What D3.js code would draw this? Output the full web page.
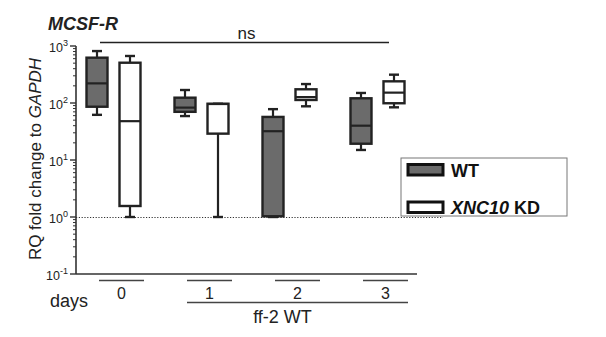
<!DOCTYPE html>
<html><head><meta charset="utf-8">
<script src="https://cdn.jsdelivr.net/npm/d3@7/dist/d3.min.js"></script>
<style>body{margin:0;background:#fff}svg{display:block;font-family:"Liberation Sans",Arial,sans-serif}</style>
</head><body><svg id="c" width="606" height="337"></svg>
<script>
const days = ["0","1","2","3"];
const groups = ["WT","XNC10 KD"];
// [whiskerLow, q1, median, q3, whiskerHigh]
const wtStats = [[62,86,221,624,815],[59,70,83,124,169],[1.0,1.03,32,57,78],[15,19.3,40,121,150]];
const kdStats = [[1.0,1.56,48,509,668],[1.0,29,96,97,97],[87.5,113,127,174,215],[84,99,152,240,314]];
const yTicks = [0.1,1,10,100,1000];
const yExps = ["-1","0","1","2","3"];

const svg = d3.select("#c");
const y = d3.scaleLog().domain([0.1,1000]).range([274,46]);
const x = d3.scalePoint().domain(days).range([113.5,377.5]);
const sub = d3.scaleBand().domain(groups).range([-33,33]).paddingInner(0);
const fills = {"WT":"#6b6b6b","XNC10 KD":"#ffffff"};

// y axis
const minor = [];
for (let e=-1;e<3;e++) for (let k=2;k<=9;k++) minor.push(k*Math.pow(10,e));
const gy = svg.append("g").attr("transform","translate(76,0)");
gy.append("line").attr("x1",0).attr("x2",0).attr("y1",y(1000)).attr("y2",y(0.1)).attr("stroke","#333").attr("stroke-width",1.6);
gy.selectAll(".mn").data(minor).join("line").attr("x1",-3).attr("x2",0).attr("y1",d=>y(d)).attr("y2",d=>y(d)).attr("stroke","#333").attr("stroke-width",1);
gy.selectAll(".mj").data(yTicks).join("line").attr("x1",-6).attr("x2",0).attr("y1",d=>y(d)).attr("y2",d=>y(d)).attr("stroke","#333").attr("stroke-width",1.4);
const tl = gy.selectAll(".tl").data(yTicks).join("text").attr("x",-8).attr("y",d=>y(d)+6).attr("text-anchor","end").attr("font-size",12.5).attr("fill","#222");
tl.append("tspan").text("10");
tl.append("tspan").attr("dy",-6).attr("font-size",9).text((d,i)=>yExps[i]);

// x axis line
svg.append("line").attr("x1",76).attr("x2",417).attr("y1",y(0.1)).attr("y2",y(0.1)).attr("stroke","#333").attr("stroke-width",1.6);

// dotted reference at 1
svg.append("line").attr("x1",76).attr("x2",443).attr("y1",y(1)+0.5).attr("y2",y(1)+0.5).attr("stroke","#333").attr("stroke-width",1).attr("stroke-dasharray","1.2,1.6");

// boxes
const bw = 21, cw = 10;
function drawBox(stats, grp){
  const g = svg.append("g");
  stats.forEach((s,i)=>{
    const cx = x(days[i]) + sub(grp) + sub.bandwidth()/2;
    const gg = g.append("g");
    gg.append("line").attr("x1",cx).attr("x2",cx).attr("y1",y(s[0])).attr("y2",y(s[4])).attr("stroke","#222").attr("stroke-width",2.2);
    gg.append("line").attr("x1",cx-cw/2).attr("x2",cx+cw/2).attr("y1",y(s[0])).attr("y2",y(s[0])).attr("stroke","#222").attr("stroke-width",2.4);
    gg.append("line").attr("x1",cx-cw/2).attr("x2",cx+cw/2).attr("y1",y(s[4])).attr("y2",y(s[4])).attr("stroke","#222").attr("stroke-width",2.4);
    gg.append("rect").attr("x",cx-bw/2).attr("width",bw).attr("y",y(s[3])).attr("height",y(s[1])-y(s[3])).attr("fill",fills[grp]).attr("stroke","#222").attr("stroke-width",2.4);
    gg.append("line").attr("x1",cx-bw/2).attr("x2",cx+bw/2).attr("y1",y(s[2])).attr("y2",y(s[2])).attr("stroke","#222").attr("stroke-width",2.2);
  });
}
drawBox(wtStats,"WT");
drawBox(kdStats,"XNC10 KD");

// category labels
const lx = d => x(d)+8;
svg.selectAll(".ul").data(days).join("line").attr("x1",d=>lx(d)-22.5).attr("x2",d=>lx(d)+22.5).attr("y1",280.5).attr("y2",280.5).attr("stroke","#444").attr("stroke-width",1.5);
svg.selectAll(".dl").data(days).join("text").attr("x",d=>lx(d)).attr("y",298.5).attr("text-anchor","middle").attr("font-size",16).attr("fill","#222").text(d=>d);
svg.append("text").attr("x",69).attr("y",306.5).attr("text-anchor","middle").attr("font-size",18).attr("fill","#222").text("days");
svg.append("line").attr("x1",lx("1")-22.5).attr("x2",lx("3")+22.5).attr("y1",302.5).attr("y2",302.5).attr("stroke","#444").attr("stroke-width",1.5);
svg.append("text").attr("x",282.5).attr("y",323).attr("text-anchor","middle").attr("font-size",18).attr("fill","#222").text("ff-2 WT");

// significance
svg.append("line").attr("x1",100).attr("x2",389).attr("y1",42.5).attr("y2",42.5).attr("stroke","#222").attr("stroke-width",1.4);
svg.append("text").attr("x",246.5).attr("y",38.5).attr("text-anchor","middle").attr("font-size",17).attr("fill","#222").text("ns");

// title
svg.append("text").attr("x",48).attr("y",30).attr("font-size",18).attr("font-weight","bold").attr("font-style","italic").attr("fill","#222").text("MCSF-R");

// y label
const yl = svg.append("text").attr("transform","translate(40.5,159) rotate(-90)").attr("text-anchor","middle").attr("font-size",17).attr("fill","#222");
yl.append("tspan").text("RQ fold change to ");
yl.append("tspan").attr("font-style","italic").text("GAPDH");

// legend
const lg = svg.append("g");
lg.append("rect").attr("x",401).attr("y",158).attr("width",166).attr("height",58).attr("fill","#fff").attr("stroke","#777").attr("stroke-width",1);
lg.selectAll(".sw").data(groups).join("rect").attr("x",408).attr("y",(d,i)=>164.5+i*37.5).attr("width",35).attr("height",10.5).attr("fill",d=>fills[d]).attr("stroke","#111").attr("stroke-width",3);
const lt = lg.selectAll(".lt").data(groups).join("text").attr("x",451).attr("y",(d,i)=>177+i*36.5).attr("font-size",18).attr("font-weight","bold").attr("fill","#111");
lt.each(function(d){
  const t = d3.select(this);
  if (d==="WT") t.text("WT");
  else { t.append("tspan").attr("font-style","italic").text("XNC10"); t.append("tspan").text(" KD"); }
});
</script></body></html>
